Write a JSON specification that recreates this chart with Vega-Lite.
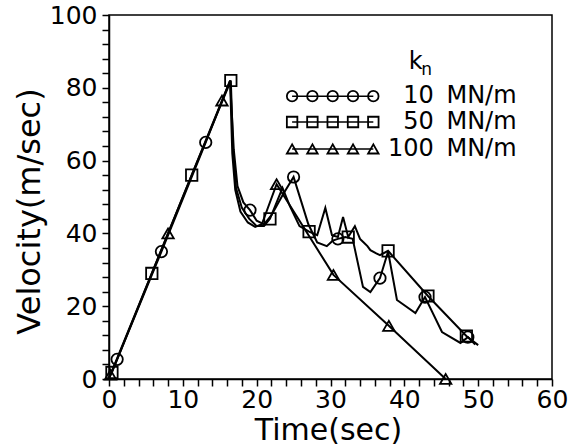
{
  "$schema": "https://vega.github.io/schema/vega-lite/v6.json",
  "width": 443,
  "height": 364,
  "autosize": "none",
  "padding": {"left": 109, "top": 15, "right": 16, "bottom": 67},
  "background": "white",
  "config": {
    "view": {"stroke": "black", "strokeWidth": 1.5},
    "font": "DejaVu Sans",
    "axis": {
      "domainColor": "black", "domainWidth": 1.5, "tickColor": "black", "tickWidth": 1.5,
      "tickSize": 7, "labelColor": "black", "titleColor": "black", "grid": false,
      "labelFont": "DejaVu Sans", "titleFont": "DejaVu Sans", "labelFontSize": 25,
      "titleFontSize": 30, "titleFontWeight": "normal", "labelOverlap": false, "labelFlush": false
    }
  },
  "resolve": {"axis": {"x": "independent", "y": "independent"}},
  "datasets": {
    "series": [
      {"s": "10", "t": 0, "v": 0.3, "m": 0},
      {"s": "10", "t": 1.1, "v": 5.4, "m": 1},
      {"s": "10", "t": 7.1, "v": 35, "m": 1},
      {"s": "10", "t": 13.1, "v": 65, "m": 1},
      {"s": "10", "t": 16.4, "v": 82, "m": 0},
      {"s": "10", "t": 16.9, "v": 63, "m": 0},
      {"s": "10", "t": 17.4, "v": 53, "m": 0},
      {"s": "10", "t": 18.2, "v": 48.5, "m": 0},
      {"s": "10", "t": 19.1, "v": 46.4, "m": 1},
      {"s": "10", "t": 20, "v": 43.5, "m": 0},
      {"s": "10", "t": 21, "v": 42.5, "m": 0},
      {"s": "10", "t": 22, "v": 45, "m": 0},
      {"s": "10", "t": 23.5, "v": 50.5, "m": 0},
      {"s": "10", "t": 25, "v": 55.5, "m": 1},
      {"s": "10", "t": 26, "v": 49, "m": 0},
      {"s": "10", "t": 27, "v": 42.5, "m": 0},
      {"s": "10", "t": 28.2, "v": 37.5, "m": 0},
      {"s": "10", "t": 29.5, "v": 36.5, "m": 0},
      {"s": "10", "t": 30.3, "v": 38, "m": 0},
      {"s": "10", "t": 31, "v": 38.5, "m": 1},
      {"s": "10", "t": 32, "v": 39, "m": 0},
      {"s": "10", "t": 33, "v": 38.5, "m": 0},
      {"s": "10", "t": 34.4, "v": 25.3, "m": 0},
      {"s": "10", "t": 35.4, "v": 23.9, "m": 0},
      {"s": "10", "t": 36.7, "v": 27.7, "m": 1},
      {"s": "10", "t": 37.8, "v": 35, "m": 0},
      {"s": "10", "t": 39, "v": 21.7, "m": 0},
      {"s": "10", "t": 41.5, "v": 18.1, "m": 0},
      {"s": "10", "t": 42.8, "v": 22.5, "m": 1},
      {"s": "10", "t": 45.1, "v": 12.9, "m": 0},
      {"s": "10", "t": 47.6, "v": 9.9, "m": 0},
      {"s": "10", "t": 48.6, "v": 11.5, "m": 1},
      {"s": "10", "t": 49.6, "v": 9.5, "m": 0},
      {"s": "50", "t": 0, "v": 0.3, "m": 0},
      {"s": "50", "t": 0.4, "v": 1.8, "m": 1},
      {"s": "50", "t": 5.8, "v": 29, "m": 1},
      {"s": "50", "t": 11.2, "v": 56, "m": 1},
      {"s": "50", "t": 16.5, "v": 82, "m": 1},
      {"s": "50", "t": 16.8, "v": 63, "m": 0},
      {"s": "50", "t": 17.2, "v": 52.5, "m": 0},
      {"s": "50", "t": 18, "v": 47, "m": 0},
      {"s": "50", "t": 19, "v": 44, "m": 0},
      {"s": "50", "t": 20, "v": 42, "m": 0},
      {"s": "50", "t": 21, "v": 42, "m": 0},
      {"s": "50", "t": 21.8, "v": 44, "m": 1},
      {"s": "50", "t": 23.5, "v": 52.5, "m": 0},
      {"s": "50", "t": 24.5, "v": 47.5, "m": 0},
      {"s": "50", "t": 25.8, "v": 42, "m": 0},
      {"s": "50", "t": 27.1, "v": 40.5, "m": 1},
      {"s": "50", "t": 28.2, "v": 39.5, "m": 0},
      {"s": "50", "t": 29.3, "v": 47, "m": 0},
      {"s": "50", "t": 30.2, "v": 39.5, "m": 0},
      {"s": "50", "t": 31, "v": 39, "m": 0},
      {"s": "50", "t": 31.7, "v": 44.5, "m": 0},
      {"s": "50", "t": 32.4, "v": 39, "m": 1},
      {"s": "50", "t": 33.3, "v": 42, "m": 0},
      {"s": "50", "t": 34, "v": 38.5, "m": 0},
      {"s": "50", "t": 34.5, "v": 37.5, "m": 0},
      {"s": "50", "t": 35, "v": 36.5, "m": 0},
      {"s": "50", "t": 35.4, "v": 35.4, "m": 0},
      {"s": "50", "t": 36.2, "v": 34.5, "m": 0},
      {"s": "50", "t": 36.7, "v": 34, "m": 0},
      {"s": "50", "t": 37.8, "v": 35.2, "m": 1},
      {"s": "50", "t": 43.2, "v": 22.8, "m": 1},
      {"s": "50", "t": 48.4, "v": 11.8, "m": 1},
      {"s": "50", "t": 50, "v": 9.3, "m": 0},
      {"s": "100", "t": 0, "v": 0.3, "m": 0},
      {"s": "100", "t": 0.2, "v": 1.2, "m": 1},
      {"s": "100", "t": 8, "v": 40, "m": 1},
      {"s": "100", "t": 15.3, "v": 76.5, "m": 1},
      {"s": "100", "t": 16.4, "v": 82, "m": 0},
      {"s": "100", "t": 16.7, "v": 62, "m": 0},
      {"s": "100", "t": 17.1, "v": 52, "m": 0},
      {"s": "100", "t": 17.8, "v": 46, "m": 0},
      {"s": "100", "t": 18.8, "v": 43, "m": 0},
      {"s": "100", "t": 19.8, "v": 41.8, "m": 0},
      {"s": "100", "t": 20.7, "v": 42.5, "m": 0},
      {"s": "100", "t": 22.7, "v": 53.5, "m": 1},
      {"s": "100", "t": 30.4, "v": 28.6, "m": 1},
      {"s": "100", "t": 37.9, "v": 14.6, "m": 1},
      {"s": "100", "t": 45.6, "v": 0, "m": 1}
    ],
    "leg": [
      {"s": "10", "t": 24.8, "v": 77.7},
      {"s": "10", "t": 27.55, "v": 77.7},
      {"s": "10", "t": 30.3, "v": 77.7},
      {"s": "10", "t": 33.05, "v": 77.7},
      {"s": "10", "t": 35.8, "v": 77.7},
      {"s": "50", "t": 24.8, "v": 70.6},
      {"s": "50", "t": 27.55, "v": 70.6},
      {"s": "50", "t": 30.3, "v": 70.6},
      {"s": "50", "t": 33.05, "v": 70.6},
      {"s": "50", "t": 35.8, "v": 70.6},
      {"s": "100", "t": 24.8, "v": 63.2},
      {"s": "100", "t": 27.55, "v": 63.2},
      {"s": "100", "t": 30.3, "v": 63.2},
      {"s": "100", "t": 33.05, "v": 63.2},
      {"s": "100", "t": 35.8, "v": 63.2}
    ],
    "legtext": [
      {"num": "10", "unit": "MN/m", "v": 77.7},
      {"num": "50", "unit": "MN/m", "v": 70.6},
      {"num": "100", "unit": "MN/m", "v": 63.2}
    ],
    "kn": [
      {"txt": "k", "t": 40.6, "v": 85.2, "sz": 24},
      {"txt": "n", "t": 42.3, "v": 83.6, "sz": 17}
    ]
  },
  "layer": [
    {
      "data": {"name": "series"},
      "mark": {"type": "line", "color": "black", "strokeWidth": 2},
      "encoding": {
        "x": {"field": "t", "type": "quantitative", "scale": {"domain": [0, 60], "nice": false},
          "axis": {"values": [0, 10, 20, 30, 40, 50, 60], "title": "Time(sec)", "labelPadding": 1,
            "orient": "bottom", "titleY": 36, "titleBaseline": "top", "titleX": 219}},
        "y": {"field": "v", "type": "quantitative", "scale": {"domain": [0, 100], "nice": false},
          "axis": {"values": [0, 20, 40, 60, 80, 100], "title": "Velocity(m/sec)", "labelPadding": 5,
            "orient": "left", "titleX": -80, "titleY": 196, "titleBaseline": "middle", "titleAngle": -90, "titleFontSize": 32}},
        "detail": {"field": "s"}
      }
    },
    {
      "data": {"name": "series"},
      "transform": [{"filter": "datum.m === 1"}],
      "mark": {"type": "point", "filled": false, "stroke": "black", "strokeWidth": 1.8, "size": 130, "opacity": 1},
      "encoding": {
        "x": {"field": "t", "type": "quantitative",
          "axis": {"orient": "bottom", "values": [2,4,6,8,12,14,16,18,22,24,26,28,32,34,36,38,42,44,46,48,52,54,56,58], "labels": false, "title": null, "domain": false}},
        "y": {"field": "v", "type": "quantitative",
          "axis": {"orient": "left", "values": [4,8,12,16,24,28,32,36,44,48,52,56,64,68,72,76,84,88,92,96], "labels": false, "title": null, "domain": false}},
        "shape": {"field": "s", "type": "nominal", "scale": {"domain": ["10", "50", "100"], "range": ["circle", "square", "triangle-up"]}, "legend": null}
      }
    },
    {
      "data": {"name": "leg"},
      "mark": {"type": "line", "color": "black", "strokeWidth": 1.5},
      "encoding": {
        "x": {"field": "t", "type": "quantitative", "axis": null},
        "y": {"field": "v", "type": "quantitative", "axis": null},
        "detail": {"field": "s"}
      }
    },
    {
      "data": {"name": "leg"},
      "mark": {"type": "point", "filled": false, "stroke": "black", "strokeWidth": 1.8, "size": 110, "opacity": 1},
      "encoding": {
        "x": {"field": "t", "type": "quantitative", "axis": null},
        "y": {"field": "v", "type": "quantitative", "axis": null},
        "shape": {"field": "s", "type": "nominal", "legend": null}
      }
    },
    {
      "data": {"name": "legtext"},
      "mark": {"type": "text", "align": "right", "baseline": "middle", "fontSize": 24, "color": "black", "font": "DejaVu Sans"},
      "encoding": {
        "x": {"datum": 44, "type": "quantitative", "axis": null},
        "y": {"field": "v", "type": "quantitative", "axis": null},
        "text": {"field": "num"}
      }
    },
    {
      "data": {"name": "legtext"},
      "mark": {"type": "text", "align": "left", "baseline": "middle", "fontSize": 24, "color": "black", "font": "DejaVu Sans"},
      "encoding": {
        "x": {"datum": 45.7, "type": "quantitative", "axis": null},
        "y": {"field": "v", "type": "quantitative", "axis": null},
        "text": {"field": "unit"}
      }
    },
    {
      "data": {"name": "kn"},
      "mark": {"type": "text", "align": "left", "baseline": "alphabetic", "color": "black", "font": "DejaVu Sans"},
      "encoding": {
        "x": {"field": "t", "type": "quantitative", "axis": null},
        "y": {"field": "v", "type": "quantitative", "axis": null},
        "text": {"field": "txt"},
        "size": {"field": "sz", "type": "quantitative", "scale": null}
      }
    }
  ]
}
